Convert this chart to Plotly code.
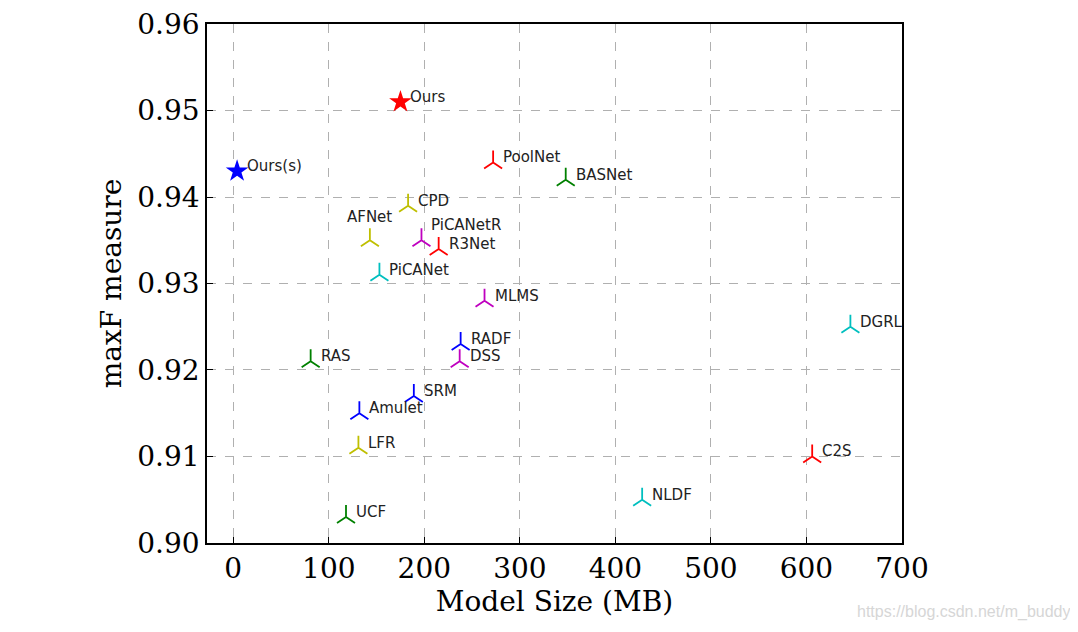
import plotly.graph_objects as go

# ---- data ----
models = ["PoolNet", "BASNet", "CPD", "AFNet", "PiCANetR", "R3Net", "PiCANet",
          "MLMS", "RADF", "DSS", "RAS", "SRM", "Amulet", "LFR", "UCF",
          "C2S", "NLDF", "DGRL"]
model_size = [272, 348, 183, 143, 197, 215, 153,
              263, 238, 237, 81, 189, 132, 131, 118,
              606, 428, 646]
max_f = [0.944, 0.942, 0.939, 0.935, 0.935, 0.934, 0.931,
         0.928, 0.923, 0.921, 0.921, 0.917, 0.915, 0.911, 0.903,
         0.910, 0.905, 0.925]

ours_names = ["Ours", "Ours(s)"]
ours_size = [175, 4]
ours_f = [0.951, 0.943]

x_ticks = [0, 100, 200, 300, 400, 500, 600, 700]
y_ticks = [0.90, 0.91, 0.92, 0.93, 0.94, 0.95, 0.96]

# ---- styles ----
R, G, B, C, M, Y = "#ff0000", "#008000", "#0000ff", "#00bfbf", "#bf00bf", "#bfbf00"
model_colors = [R, G, Y, Y, M, R, C, M, B, M, G, B, B, Y, G, R, C, C]
ours_colors = [R, B]

fig = go.Figure()

fig.add_trace(go.Scatter(
    x=model_size, y=max_f, mode="markers",
    marker=dict(symbol="y-up", size=15, color=model_colors,
                line=dict(color=model_colors, width=1.8)),
    hovertext=models, showlegend=False, cliponaxis=False))

fig.add_trace(go.Scatter(
    x=ours_size, y=ours_f, mode="markers",
    marker=dict(symbol="star", size=17, color=ours_colors,
                line=dict(width=0)),
    hovertext=ours_names, showlegend=False, cliponaxis=False))

label_font = dict(family="DejaVu Sans", size=15, color="#222222")
annotations = []
for name, xv, yv in zip(models + ours_names, model_size + ours_size, max_f + ours_f):
    if name == "AFNet":
        annotations.append(dict(x=xv, y=yv, text=name, showarrow=False,
                                xanchor="center", yanchor="middle",
                                xshift=0, yshift=23, font=label_font))
    elif name == "PiCANetR":
        annotations.append(dict(x=xv, y=yv, text=name, showarrow=False,
                                xanchor="left", yanchor="middle",
                                xshift=8, yshift=15, font=label_font))
    else:
        annotations.append(dict(x=xv, y=yv, text=name, showarrow=False,
                                xanchor="left", yanchor="middle",
                                xshift=8, yshift=5, font=label_font))

annotations.append(dict(xref="paper", yref="paper", x=1.0, y=0.0, xshift=170,
                        yshift=-69, text="https://blog.csdn.net/m_buddy",
                        showarrow=False, xanchor="right", yanchor="middle",
                        font=dict(family="Liberation Sans Narrow, Liberation Sans",
                                  size=16, color="#d6d6d6")))

tick_font = dict(family="DejaVu Serif", size=28, color="black")
axis_common = dict(
    showline=True, linecolor="black", linewidth=1.5, mirror=True,
    ticks="inside", ticklen=6, tickwidth=1.2, tickcolor="black",
    showgrid=True, gridcolor="#b0b0b0", gridwidth=1, griddash="dash",
    zeroline=False, tickfont=tick_font, automargin=False,
    ticklabeloverflow="allow",
)

fig.update_layout(
    width=1070, height=624,
    margin=dict(l=199, r=176, t=16, b=89),
    paper_bgcolor="white", plot_bgcolor="white",
    xaxis=dict(range=[-27.5, 700.01], tickvals=x_ticks,
               ticktext=[str(v) for v in x_ticks],
               title=dict(text="Model Size (MB)", font=tick_font, standoff=4),
               **axis_common),
    yaxis=dict(range=[0.89999, 0.96001], tickvals=y_ticks,
               ticktext=[f"{v:.2f}" for v in y_ticks],
               title=dict(text="maxF measure", font=tick_font, standoff=8),
               **axis_common),
    annotations=annotations,
)

fig.write_html("out.html")
